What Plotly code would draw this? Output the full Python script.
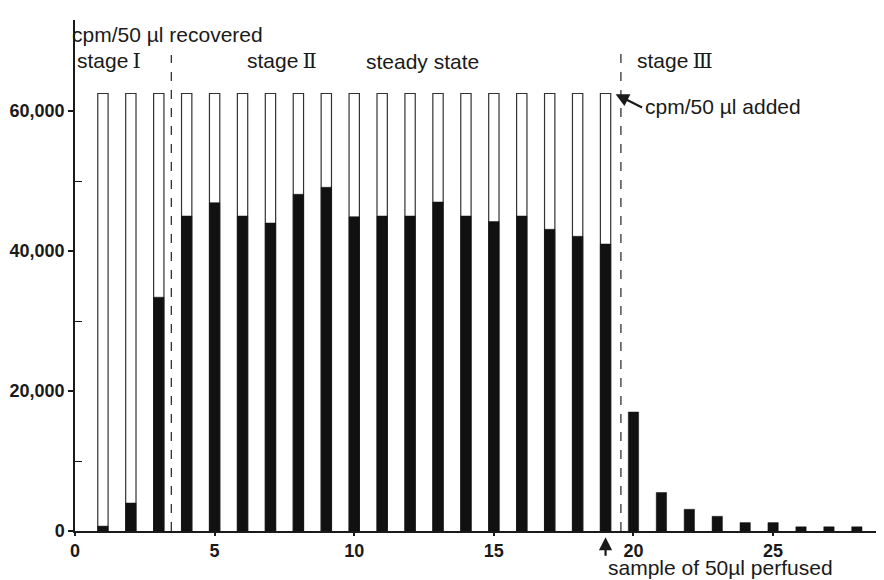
import plotly.graph_objects as go

# ---- data ----
samples = [1, 2, 3, 4, 5, 6, 7, 8, 9, 10, 11, 12, 13, 14, 15, 16, 17, 18, 19,
           20, 21, 22, 23, 24, 25, 26, 27, 28]
recovered = [700, 4000, 33400, 45000, 46900, 45000, 44000, 48100, 49100, 44900,
             45000, 45000, 47000, 45000, 44200, 45000, 43100, 42100, 41000,
             17000, 5500, 3100, 2100, 1200, 1200, 600, 600, 600]
added_samples = [1, 2, 3, 4, 5, 6, 7, 8, 9, 10, 11, 12, 13, 14, 15, 16, 17, 18, 19]
added = [62500, 62500, 62500, 62500, 62500, 62500, 62500, 62500, 62500, 62500,
         62500, 62500, 62500, 62500, 62500, 62500, 62500, 62500, 62500]
x_ticks = [0, 5, 10, 15, 20, 25]
y_ticks = [0, 20000, 40000, 60000]
y_tick_text = ["0", "20,000", "40,000", "60,000"]
y_minor = [10000, 30000, 50000]
stage_bounds = [3.45, 19.55]

FONT = "Liberation Sans, Arial, sans-serif"
SERIF = "DejaVu Serif, Liberation Serif, serif"
INK = "#1a1a1a"

fig = go.Figure()
fig.add_trace(go.Bar(x=added_samples, y=added, width=0.37,
                     marker=dict(color="white", line=dict(color="#333", width=1.2)),
                     showlegend=False, hoverinfo="skip"))
fig.add_trace(go.Bar(x=samples, y=recovered, width=0.37,
                     marker=dict(color="#111", line=dict(color="#111", width=0.5)),
                     showlegend=False))

# page body has an 8px default margin, so the figure is 8px smaller than the window
fig.update_layout(
    width=876, height=572,
    margin=dict(l=62, r=2, t=12, b=49),
    paper_bgcolor="white", plot_bgcolor="white",
    barmode="overlay",
    font=dict(family=FONT, color=INK, size=21),
    xaxis=dict(range=[0, 28.9], tickvals=x_ticks, ticks="outside", ticklen=3,
               tickwidth=1.5, tickcolor=INK, showline=True, linecolor=INK,
               linewidth=1.5, showgrid=False, zeroline=False,
               tickfont=dict(size=18, family=FONT, color=INK, weight="bold")),
    yaxis=dict(range=[0, 73000], tickvals=y_ticks, ticktext=y_tick_text,
               ticks="outside", ticklen=5, tickwidth=1.5, tickcolor=INK,
               showline=True, linecolor=INK, linewidth=1.5, showgrid=False,
               zeroline=False,
               minor=dict(tickvals=y_minor, ticks="inside", ticklen=7,
                          tickwidth=1.2, tickcolor=INK),
               tickfont=dict(size=18, family=FONT, color=INK, weight="bold")),
)

for xb, top in zip(stage_bounds, [68000, 69000]):
    fig.add_shape(type="line", x0=xb, x1=xb, y0=0, y1=top, xref="x", yref="y",
                  line=dict(color="#333", width=1.3, dash="dash"))

def label(text, x, y, xref="x", yref="y", size=21, xanchor="left", yanchor="middle"):
    fig.add_annotation(text=text, x=x, y=y, xref=xref, yref=yref,
                       xanchor=xanchor, yanchor=yanchor, showarrow=False,
                       borderpad=0,
                       font=dict(size=size, family=FONT, color=INK))

def roman(n):
    return f'<span style="font-family:{SERIF}">{n}</span>'

label("cpm/50 µl recovered", -0.005, 70900, xref="paper")
label("stage\u2009" + roman("Ⅰ"), 0.001, 67100, xref="paper")
label("stage\u2009" + roman("Ⅱ"), 6.13, 67100)
label("steady state", 10.37, 67100)
label("stage\u2009" + roman("Ⅲ"), 20.08, 67100)
label("cpm/50 µl added", 20.38, 60700)
label("sample of 50µl perfused", 19.05, -0.096, yref="paper", size=21,
      yanchor="bottom")

# arrow to the "added" outline top
fig.add_annotation(x=19.36, y=62400, xref="x", yref="y", ax=28, ay=14,
                   text="", showarrow=True, arrowhead=2, arrowsize=1.2,
                   arrowwidth=2.2, arrowcolor=INK)
# arrow from below pointing to sample 19
fig.add_annotation(x=19.0, y=-0.012, xref="x", yref="paper", ax=0, ay=20,
                   text="", showarrow=True, arrowhead=2, arrowsize=1.2,
                   arrowwidth=2.2, arrowcolor=INK)

fig.write_html("out.html")
